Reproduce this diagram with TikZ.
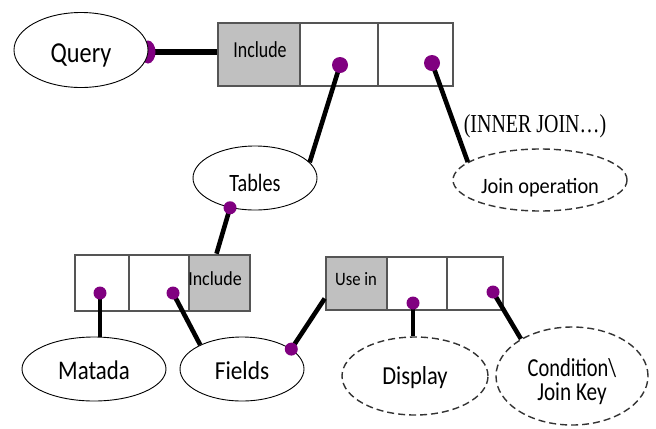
\documentclass[tikz,border=0pt]{standalone}
\usepackage{fontspec}
\setmainfont{Carlito}
\newfontfamily\tnr{Liberation Serif}
\usetikzlibrary{shapes.geometric,calc}
\definecolor{dotpurple}{HTML}{800080}
\definecolor{cellgray}{HTML}{C0C0C0}
\definecolor{cellline}{HTML}{555555}
\newcommand\sqz[2]{\scalebox{#1}[1]{#2}}
\newcommand\fs[1]{\fontsize{#1}{#1}\selectfont}
\tikzset{
  cell/.style={rectangle, draw=cellline, line width=2.6bp, fill=white, inner sep=0},
  keycell/.style={cell, fill=cellgray},
  celltxt/.style={inner sep=0, anchor=base},
  ell/.style={ellipse, draw=black, line width=0.9bp, fill=white, inner sep=0, text depth=0bp},
  dashell/.style={ell, draw=black!80, line width=1.4bp, dash pattern=on 7bp off 4bp},
  link/.style={line width=4.6bp, black},
  pin/.style={circle, fill=dotpurple, inner sep=0, minimum size=13bp},
  bigpin/.style={pin, minimum size=16bp},
}
\begin{document}
\begin{tikzpicture}[x=1bp, y=-1bp]
\useasboundingbox (0,0) rectangle (656,428);

% top record: Include | tables | joins
\node[keycell, minimum width=82bp, minimum height=63bp] (qa) at (259,54.5) {};
\node[cell, minimum width=78bp, minimum height=63bp] (qb) at (339,54.5) {};
\node[cell, minimum width=75bp, minimum height=63bp] (qc) at (415.5,54.5) {};
\node[celltxt, font=\fs{23}] (qat) at (260,57) {\sqz{0.78}{Include}};

% table record: metadata | fields | Include
\node[cell, minimum width=54bp, minimum height=56bp] (ta) at (102,283) {};
\node[cell, minimum width=60bp, minimum height=56bp] (tb) at (159,283) {};
\node[keycell, minimum width=61bp, minimum height=56bp] (tc) at (219.5,283) {};
\node[celltxt, font=\fs{20}] (tct) at (215,285) {\sqz{0.9}{Include}};

% field record: Use in | display | condition
\node[keycell, minimum width=61bp, minimum height=53bp] (fa) at (356.5,283.5) {};
\node[cell, minimum width=60bp, minimum height=53bp] (fb) at (417,283.5) {};
\node[cell, minimum width=56bp, minimum height=53bp] (fc) at (475,283.5) {};
\node[celltxt, font=\fs{19}] (fat) at (356,285) {\sqz{0.88}{Use in}};

% query connector, its pin half hidden behind the ellipse
\coordinate (qe) at (148,52);
\draw[line width=6.5bp] (qe) -- (qe -| qa.west);
\node[pin, ellipse, minimum width=15bp, minimum height=23bp] (qpin) at (qe) {};

% entity ellipses
\node[ell, minimum width=134bp, minimum height=75bp, font=\fs{29}, text height=24bp] (query) at (81,50) {\sqz{0.84}{Query}};
\node[ell, minimum width=124bp, minimum height=64bp, font=\fs{25}, text height=26bp] (tables) at (255,178) {\sqz{0.81}{Tables}};
\node[dashell, minimum width=174bp, minimum height=62bp, font=\fs{22}, text height=26bp] (join) at (540,180) {\sqz{0.93}{Join operation}};
\node[ell, minimum width=144bp, minimum height=64bp, font=\fs{27}, text height=20bp] (matada) at (94,369) {\sqz{0.85}{Matada}};
\node[ell, minimum width=124bp, minimum height=64bp, font=\fs{26}, text height=20bp] (fields) at (242,369) {\sqz{0.9}{Fields}};
\node[dashell, minimum width=146bp, minimum height=78bp, font=\fs{26}, text height=16bp] (display) at (415,376) {\sqz{0.87}{Display}};
\node[dashell, minimum width=152bp, minimum height=98bp, font=\fontsize{26}{25}\selectfont, align=center, text depth=] (cond) at (572,376)
  {\rule{0pt}{30bp}\sqz{0.79}{Condition\textbackslash}\\[-1bp]\sqz{0.82}{Join Key}};

\node[inner sep=0, anchor=base, font=\tnr\fs{26}] (inner) at (535,132) {\sqz{0.77}{(INNER JOIN\ldots)}};

% pins inside the records
\coordinate (p1) at (340,65);
\coordinate (p2) at (432,63);
\coordinate (p3) at (100,293);
\coordinate (p4) at (173,293);
\coordinate (p5) at (413,303);
\coordinate (p6) at (493,292);

% connectors
\draw[link] (p1) -- (tables.16);
\draw[link] (p2) -- (join.166);
\draw[link] (tables.230) -- ($(tc.north)+(-3,0)$);
\draw[link] (p3) -- (p3 |- matada.north);
\draw[link] (p4) -- (fields.150);
\draw[link] (fields.22) -- ($(fa.west)+(0,15)$);
\draw[link] (p5) -- (p5 |- display.north);
\draw[link] (p6) -- (cond.144);

% pins on top
\node[bigpin] (pin1) at (p1) {};
\node[bigpin] (pin2) at (p2) {};
\node[pin] (pin3) at (p3) {};
\node[pin] (pin4) at (p4) {};
\node[pin] (pin5) at (p5) {};
\node[pin] (pin6) at (p6) {};
\node[pin] (tpin) at (tables.230) {};
\node[pin] (fpin) at (fields.22) {};
\end{tikzpicture}
\end{document}
